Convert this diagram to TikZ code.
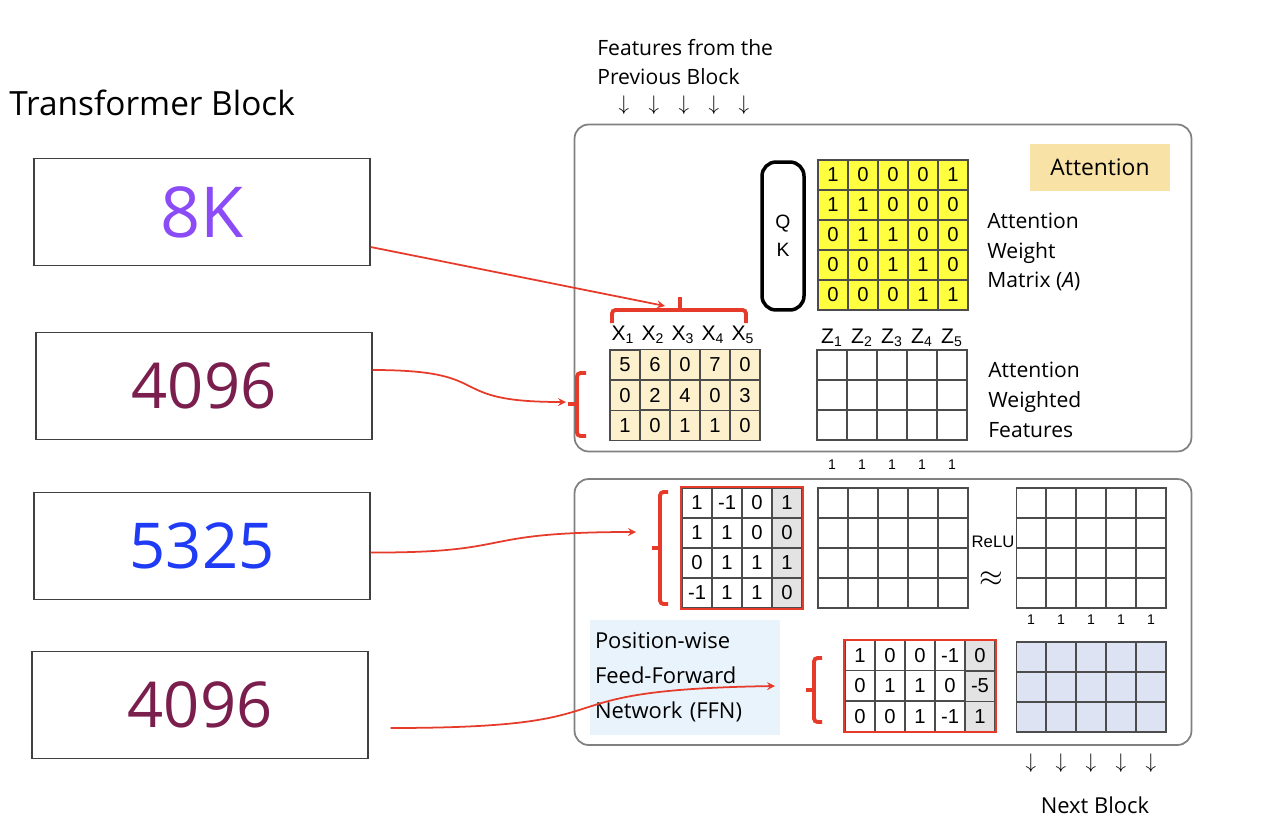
\documentclass[tikz,border=0pt]{standalone}
\usepackage{fontspec}
\setmainfont{Open Sans}
\newfontfamily\cellfont{Liberation Sans}
\usetikzlibrary{matrix}

\definecolor{purplek}{HTML}{8B4CF7}
\definecolor{maroonnum}{HTML}{7A1E4E}
\definecolor{bluenum}{HTML}{1F3BF5}
\definecolor{linkred}{HTML}{E63B2A}
\definecolor{attyellow}{HTML}{FFFF40}
\definecolor{xcream}{HTML}{FCF0CD}
\definecolor{attbg}{HTML}{F9E2A5}
\definecolor{ffnbg}{HTML}{E9F3FC}
\definecolor{ybg}{HTML}{DDE3F3}
\definecolor{biasgray}{HTML}{E3E3E3}

\tikzset{
	cell/.style={draw=black!70, line width=0.6pt, minimum width=0.6cm, minimum height=0.6cm, inner sep=0pt, font=\cellfont\fontsize{11.5}{11.5}\selectfont},
	grid/.style={matrix of nodes, nodes in empty cells, nodes={cell}, column sep=-0.6pt, row sep=-0.6pt, inner sep=0pt},
	numbox/.style={rectangle, draw=black!75, line width=0.8pt, minimum width=6.72cm, minimum height=2.14cm, font=\fontsize{36}{40}\selectfont},
	block/.style={rectangle, draw=black!50, rounded corners=8pt, line width=1pt},
	brace/.style={draw=linkred, line width=2.2pt, rounded corners=2pt},
	link/.style={draw=linkred, line width=1pt, ->, >=stealth},
	lbl/.style={align=left, anchor=west, inner sep=0pt},
	tick/.style={inner sep=0.5pt},
}

\begin{document}
\begin{tikzpicture}[x=0.02cm, y=-0.02cm]
	\useasboundingbox (0,0) rectangle (1267,832);

	% left column
	\node[lbl, font=\fontsize{19}{21}\selectfont] (title) at (9,103) {Transformer Block};
	\node[numbox, text=purplek, font=\fontsize{40}{44}\selectfont] (b8k) at (202,212) {8K};
	\node[numbox, text=maroonnum] (b4096a) at (204,386) {4096};
	\node[numbox, text=bluenum] (b5325) at (202,546) {5325};
	\node[numbox, text=maroonnum] (b4096b) at (200,705) {4096};

	% blocks
	\node[block, minimum width=12.34cm, minimum height=6.54cm] (attn) at (883,288) {};
	\node[block, minimum width=12.34cm, minimum height=5.32cm] (ffnblock) at (883,612) {};

	\node[lbl, font=\fontsize{12}{17}\selectfont] (feat) at (597,62) {Features from the\\Previous Block};
	\draw[font=\fontsize{12}{12}\selectfont]
	(624,105) node[tick] (in1) {$\downarrow$}
	(654,105) node[tick] (in2) {$\downarrow$}
	(684,105) node[tick] (in3) {$\downarrow$}
	(714,105) node[tick] (in4) {$\downarrow$}
	(744,105) node[tick] (in5) {$\downarrow$};

	% attention
	\node[draw, rounded corners=8pt, line width=2pt, minimum width=0.84cm, minimum height=2.96cm, align=center, font=\cellfont\fontsize{11}{13}\selectfont] (qk) at (783,236) {Q\\[3pt]K};
	\matrix[grid, nodes={fill=attyellow}] (amat) at (893,235) {
		1 & 0 & 0 & 0 & 1\\
		1 & 1 & 0 & 0 & 0\\
		0 & 1 & 1 & 0 & 0\\
		0 & 0 & 1 & 1 & 0\\
		0 & 0 & 0 & 1 & 1\\
	};
	\node[fill=attbg, minimum width=2.8cm, minimum height=0.94cm, font=\fontsize{13}{15}\selectfont] (attlbl) at (1100,167) {Attention};
	\node[lbl, font=\fontsize{12}{17}\selectfont] (awm) at (987,252) {Attention\\Weight\\Matrix (\textit{A})};

	\draw[font=\cellfont\fontsize{12}{12}\selectfont]
	(623,335) node (x1) {X\textsubscript{1}}
	(653,335) node (x2) {X\textsubscript{2}}
	(683,335) node (x3) {X\textsubscript{3}}
	(713,335) node (x4) {X\textsubscript{4}}
	(743,335) node (x5) {X\textsubscript{5}};
	\matrix[grid, nodes={fill=xcream}] (xmat) at (685,395) {
		5 & 6 & 0 & 7 & 0\\
		0 & 2 & 4 & 0 & 3\\
		1 & 0 & 1 & 1 & 0\\
	};
	\draw[brace] (612,323) -- (612,310) -- (746,310) -- (746,323);
	\draw[brace] (680,310) -- (680,297);
	\draw[brace] (586,373) -- (577,373) -- (577,436) -- (586,436);
	\draw[brace] (577,404) -- (568,404);

	\draw[font=\cellfont\fontsize{12}{12}\selectfont]
	(832,338) node (z1) {Z\textsubscript{1}}
	(862,338) node (z2) {Z\textsubscript{2}}
	(892,338) node (z3) {Z\textsubscript{3}}
	(922,338) node (z4) {Z\textsubscript{4}}
	(952,338) node (z5) {Z\textsubscript{5}};
	\matrix[grid] (zmat) at (892,395) {
		& & & & \\
		& & & & \\
		& & & & \\
	};
	\node[lbl, font=\fontsize{12}{17}\selectfont] (awf) at (988,400) {Attention\\Weighted\\Features};
	\draw[font=\cellfont\fontsize{8}{8}\selectfont]
	(832,465) node (oa1) {1}
	(862,465) node (oa2) {1}
	(892,465) node (oa3) {1}
	(922,465) node (oa4) {1}
	(952,465) node (oa5) {1};

	% feed-forward
	\matrix[grid, column 4/.style={nodes={fill=biasgray}}] (w1mat) at (742,548) {
		1 & -1 & 0 & 1\\
		1 & 1 & 0 & 0\\
		0 & 1 & 1 & 1\\
		-1 & 1 & 1 & 0\\
	};
	\draw[linkred, line width=1.5pt] (w1mat.north west) rectangle (w1mat.south east);
	\draw[brace] (668,492) -- (660,492) -- (660,604) -- (668,604);
	\draw[brace] (660,548) -- (652,548);
	\matrix[grid] (hmat) at (893,548) {
		& & & & \\
		& & & & \\
		& & & & \\
		& & & & \\
	};
	\node[tick, font=\cellfont\fontsize{9.5}{11}\selectfont] (relu) at (993,542) {ReLU};
	\node[tick, font=\fontsize{18}{18}\selectfont] (approx) at (991,579) {$\approx$};
	\matrix[grid] (rmat) at (1091,548) {
		& & & & \\
		& & & & \\
		& & & & \\
		& & & & \\
	};
	\draw[font=\cellfont\fontsize{8}{8}\selectfont]
	(1031,620) node (ob1) {1}
	(1061,620) node (ob2) {1}
	(1091,620) node (ob3) {1}
	(1121,620) node (ob4) {1}
	(1151,620) node (ob5) {1};

	\node[fill=ffnbg, minimum height=2.3cm, text width=3.6cm, inner xsep=0.1cm, align=left, font=\fontsize{12.5}{20}\selectfont] (ffn) at (685,677) {Position-wise\\Feed-Forward\\Network (FFN)};
	\matrix[grid, column 5/.style={nodes={fill=biasgray}}] (w2mat) at (920,686) {
		1 & 0 & 0 & -1 & 0\\
		0 & 1 & 1 & 0 & -5\\
		0 & 0 & 1 & -1 & 1\\
	};
	\draw[linkred, line width=1.5pt] (w2mat.north west) rectangle (w2mat.south east);
	\draw[brace] (822,658) -- (814,658) -- (814,722) -- (822,722);
	\draw[brace] (814,690) -- (806,690);
	\matrix[grid, nodes={fill=ybg}] (ymat) at (1091,687) {
		& & & & \\
		& & & & \\
		& & & & \\
	};

	\draw[font=\fontsize{12}{12}\selectfont]
	(1031,763) node[tick] (out1) {$\downarrow$}
	(1061,763) node[tick] (out2) {$\downarrow$}
	(1091,763) node[tick] (out3) {$\downarrow$}
	(1121,763) node[tick] (out4) {$\downarrow$}
	(1151,763) node[tick] (out5) {$\downarrow$};
	\node[font=\fontsize{12.5}{15}\selectfont] (next) at (1095,805) {Next Block};

	% red links
	\coordinate (xtop) at (665,306);
	\coordinate (xleft) at (566,402);
	\coordinate (w1left) at (636,532);
	\coordinate (ffnin) at (775,686);
	\draw[link] ([yshift=-0.7cm]b8k.east) -- (xtop);
	\draw[link] ([yshift=0.32cm]b4096a.east) .. controls (500,370) and (440,402) .. (xleft);
	\draw[link] ([yshift=-0.13cm]b5325.east) .. controls (520,553) and (470,532) .. (w1left);
	\draw[link] ([xshift=0.44cm, yshift=-0.46cm]b4096b.east) .. controls (650,728) and (520,690) .. (ffnin);
\end{tikzpicture}
\end{document}
